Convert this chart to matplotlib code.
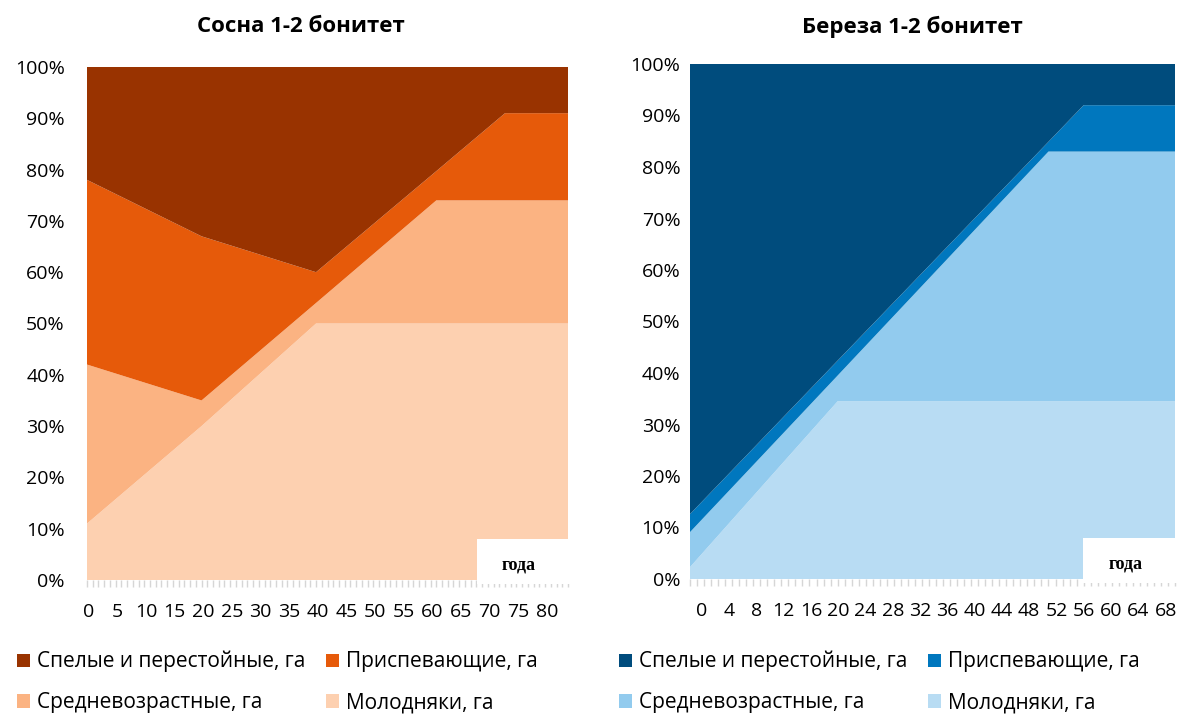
import matplotlib
matplotlib.use("Agg")
import matplotlib.pyplot as plt
import matplotlib.transforms as mtransforms
from matplotlib.patches import Rectangle

plt.rcParams['font.family'] = ['Open Sans', 'DejaVu Sans']

# данные: доли возрастных групп (%), по годам
labels = ["Спелые и перестойные, га", "Приспевающие, га", "Средневозрастные, га", "Молодняки, га"]

pine_years = [0, 20, 40, 61, 73, 84]
pine_molod = [11, 30, 50, 50, 50, 50]
pine_sredn = [31, 5, 4, 24, 24, 24]
pine_prisp = [36, 32, 6, 5.7, 17, 17]
pine_spel = [22, 33, 40, 20.3, 9, 9]
pine_ticks = list(range(0, 81, 5))

birch_years = [0, 21, 51, 56, 69]
birch_molod = [2.3, 34.5, 34.5, 34.5, 34.5]
birch_sredn = [6.8, 5.0, 48.5, 48.5, 48.5]
birch_prisp = [3.5, 2.9, 1.9, 9.0, 9.0]
birch_spel = [87.4, 57.6, 15.1, 8.0, 8.0]
birch_ticks = list(range(0, 69, 4))

pine_colors = ["#FDD0B0", "#FBB382", "#E65A0A", "#993300"]
birch_colors = ["#B8DCF3", "#92CBEE", "#0077BE", "#004C7D"]

W, H = 1181, 716
fig = plt.figure(figsize=(W / 100, H / 100), dpi=100)


def make_panel(rect, years, layers, colors, ticks, tick_off, tick_k, ypad, title, title_x, leg_x):
    ax = fig.add_axes(rect)
    polys = ax.stackplot(years, *layers, colors=colors, linewidth=0)
    ax.set_xlim(0, years[-1])
    ax.set_ylim(0, 100)
    for s in ax.spines.values():
        s.set_visible(False)
    ax.set_yticks(range(0, 101, 10))
    ax.set_yticklabels([f"{v}%" for v in range(0, 101, 10)])
    ax.tick_params(axis='y', length=0, pad=ypad, labelsize=14)
    ax.set_xticks([])
    ax.set_xticks(range(0, years[-1] + 1), minor=True)
    ax.tick_params(axis='x', which='minor', length=5, width=1, color='#d6d6d6', pad=0)
    tr = mtransforms.blended_transform_factory(ax.transData, ax.transAxes)
    for t in ticks:
        ax.text(tick_off + t * tick_k, -0.062, str(t), transform=tr, ha='center', va='center',
                fontsize=14, clip_on=False)
    # подпись "года"
    ax.add_patch(Rectangle((0.81, -0.008), 0.196, 0.088, transform=ax.transAxes,
                           facecolor='white', edgecolor='none',
                           clip_on=False, zorder=5))
    ax.text(0.898, 0.03, "года", transform=ax.transAxes, ha='center', va='center',
            family='Liberation Serif', fontweight='bold', fontsize=13, zorder=6)
    fig.text(title_x, 1 - 27 / H, title, ha='center', va='center',
             fontsize=16, fontweight='bold')
    # легенда: строки [спелые, приспевающие], [средневозрастные, молодняки]
    h = polys[::-1]
    order = [0, 2, 1, 3]
    fig.legend([h[i] for i in order], [labels[i] for i in order],
               loc='upper left', bbox_to_anchor=(leg_x, 1 - 651 / H), ncol=2,
               frameon=False, fontsize=15, handlelength=0.6, handleheight=0.6,
               handletextpad=0.35, labelspacing=0.95, columnspacing=1.0,
               borderaxespad=0, borderpad=0)
    return ax


make_panel([87 / W, 136 / H, 481 / W, 513 / H], pine_years,
           [pine_molod, pine_sredn, pine_prisp, pine_spel], pine_colors,
           pine_ticks, 0.3, 1.0, 16, "Сосна 1-2 бонитет", 301 / W, 17 / W)
make_panel([690 / W, 137 / H, 485 / W, 515 / H], birch_years,
           [birch_molod, birch_sredn, birch_prisp, birch_spel], birch_colors,
           birch_ticks, 1.7, 0.97, 7, "Береза 1-2 бонитет", 912 / W, 619 / W)

fig.savefig("out.png", dpi=100)
